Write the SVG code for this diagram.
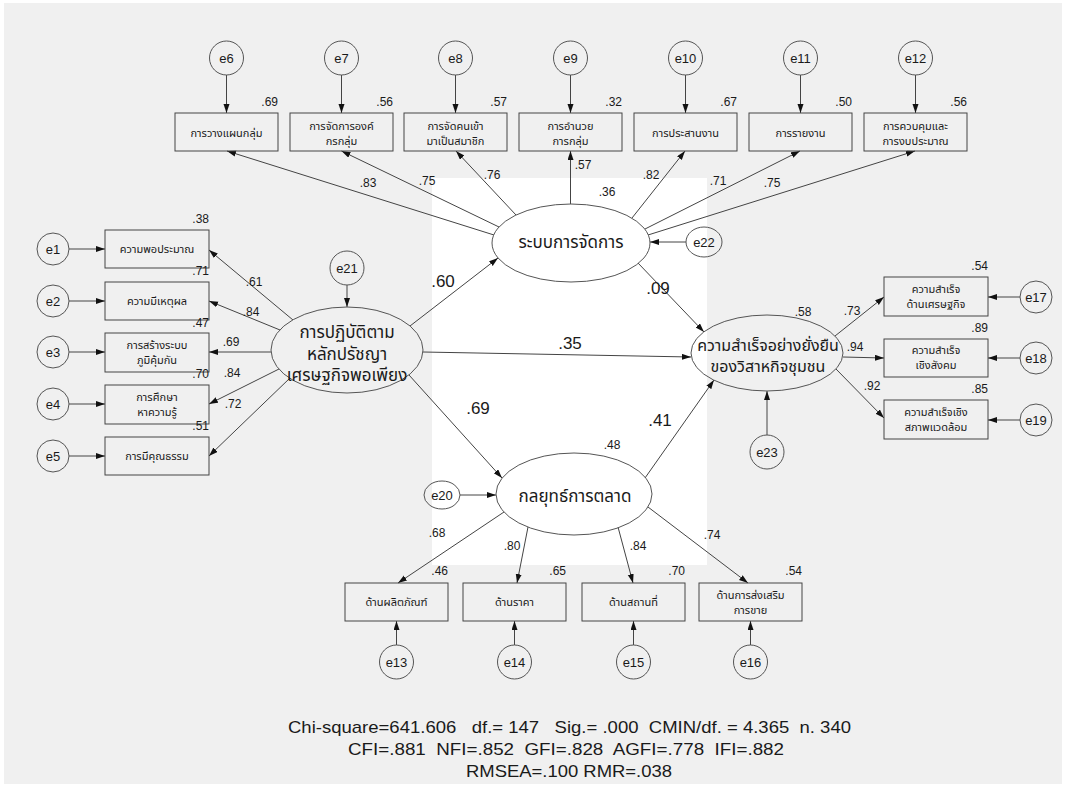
<svg xmlns="http://www.w3.org/2000/svg" width="1066" height="788" viewBox="0 0 1066 788">
<defs>
<marker id="ah" markerUnits="userSpaceOnUse" markerWidth="10" markerHeight="7" refX="9" refY="3" orient="auto">
<path d="M0,0 L9,3 L0,6 Z" fill="#111"/>
</marker>
<style>
.box{fill:none;stroke:#444;stroke-width:1}
.err{fill:none;stroke:#555;stroke-width:1}
.lat{fill:none;stroke:#555;stroke-width:1}
.ln{fill:none;stroke:#444;stroke-width:1;marker-end:url(#ah)}
text{font-family:"Liberation Sans","Noto Sans Thai","Noto Sans",sans-serif;fill:#1a1a1a}
.bt{font-size:11px;text-anchor:middle}
.et{font-size:13px;text-anchor:middle}
.sm{font-size:12px}
.r2{font-size:12px;text-anchor:end}
.lg{font-size:17px}
.lt{font-size:17px;text-anchor:middle}
.st{font-size:17px}
</style>
</defs>
<rect x="0" y="0" width="1066" height="788" fill="#ffffff"/>
<rect x="4" y="3" width="1058" height="781" fill="#f0f0f0"/>
<rect x="432" y="178" width="275" height="387" fill="#ffffff"/>

<g id="connectors">
<line class="ln" x1="226.5" y1="75" x2="226.5" y2="113"/>
<line class="ln" x1="341.5" y1="75" x2="341.5" y2="113"/>
<line class="ln" x1="455.5" y1="75" x2="455.5" y2="113"/>
<line class="ln" x1="570.5" y1="75" x2="570.5" y2="113"/>
<line class="ln" x1="685.5" y1="75" x2="685.5" y2="113"/>
<line class="ln" x1="800.5" y1="75" x2="800.5" y2="113"/>
<line class="ln" x1="915.5" y1="75" x2="915.5" y2="113"/>
<line class="ln" x1="494" y1="235" x2="227" y2="151"/>
<line class="ln" x1="499" y1="227" x2="341.5" y2="151"/>
<line class="ln" x1="516" y1="215" x2="456" y2="151"/>
<line class="ln" x1="570.5" y1="204" x2="570.5" y2="151"/>
<line class="ln" x1="632" y1="218" x2="685" y2="151"/>
<line class="ln" x1="645" y1="229" x2="800" y2="151"/>
<line class="ln" x1="648" y1="235" x2="915" y2="151"/>
<line class="ln" x1="69" y1="249" x2="105" y2="249"/>
<line class="ln" x1="69" y1="301" x2="105" y2="301"/>
<line class="ln" x1="69" y1="352" x2="105" y2="352"/>
<line class="ln" x1="69" y1="404" x2="105" y2="404"/>
<line class="ln" x1="69" y1="456" x2="105" y2="456"/>
<line class="ln" x1="293" y1="320" x2="209" y2="250"/>
<line class="ln" x1="280" y1="330" x2="209" y2="301"/>
<line class="ln" x1="271" y1="352" x2="209" y2="352"/>
<line class="ln" x1="279" y1="369" x2="209" y2="404"/>
<line class="ln" x1="290" y1="378" x2="209" y2="456"/>
<line class="ln" x1="347" y1="285" x2="347" y2="307"/>
<line class="ln" x1="686" y1="242" x2="650" y2="242"/>
<line class="ln" x1="460" y1="495" x2="496" y2="495"/>
<line class="ln" x1="767" y1="435" x2="767" y2="391"/>
<line class="ln" x1="410" y1="326" x2="498" y2="258"/>
<line class="ln" x1="423" y1="352" x2="691" y2="357"/>
<line class="ln" x1="409" y1="375" x2="502" y2="478"/>
<line class="ln" x1="638" y1="263" x2="704" y2="332"/>
<line class="ln" x1="645" y1="478" x2="714" y2="380"/>
<line class="ln" x1="835" y1="336" x2="884" y2="297"/>
<line class="ln" x1="843" y1="357" x2="884" y2="358"/>
<line class="ln" x1="836" y1="369" x2="884" y2="418"/>
<line class="ln" x1="1020" y1="297" x2="988" y2="297"/>
<line class="ln" x1="1020" y1="358" x2="988" y2="358"/>
<line class="ln" x1="1020" y1="420" x2="988" y2="420"/>
<line class="ln" x1="504" y1="512" x2="398" y2="583"/>
<line class="ln" x1="528" y1="527" x2="517" y2="583"/>
<line class="ln" x1="618" y1="527" x2="633" y2="583"/>
<line class="ln" x1="648" y1="507" x2="748" y2="583"/>
<line class="ln" x1="396.5" y1="645" x2="396.5" y2="621"/>
<line class="ln" x1="514.5" y1="645" x2="514.5" y2="621"/>
<line class="ln" x1="633.5" y1="645" x2="633.5" y2="621"/>
<line class="ln" x1="750.5" y1="645" x2="750.5" y2="621"/>
</g>

<g id="coefficients">
<text class="sm" x="368" y="187" text-anchor="middle">.83</text>
<text class="sm" x="427" y="185" text-anchor="middle">.75</text>
<text class="sm" x="492" y="179" text-anchor="middle">.76</text>
<text class="sm" x="583" y="169" text-anchor="middle">.57</text>
<text class="sm" x="651" y="179" text-anchor="middle">.82</text>
<text class="sm" x="718" y="185" text-anchor="middle">.71</text>
<text class="sm" x="772" y="187" text-anchor="middle">.75</text>
<text class="sm" x="607" y="196" text-anchor="middle">.36</text>
<text class="sm" x="254" y="286" text-anchor="middle">.61</text>
<text class="sm" x="251" y="316" text-anchor="middle">.84</text>
<text class="sm" x="231" y="346" text-anchor="middle">.69</text>
<text class="sm" x="232" y="377" text-anchor="middle">.84</text>
<text class="sm" x="233" y="408" text-anchor="middle">.72</text>
<text class="lg" x="443" y="287" text-anchor="middle">.60</text>
<text class="lg" x="570" y="349" text-anchor="middle">.35</text>
<text class="lg" x="478" y="414" text-anchor="middle">.69</text>
<text class="lg" x="658" y="294" text-anchor="middle">.09</text>
<text class="lg" x="660" y="426" text-anchor="middle">.41</text>
<text class="sm" x="612" y="449" text-anchor="middle">.48</text>
<text class="sm" x="803" y="316" text-anchor="middle">.58</text>
<text class="sm" x="852" y="315" text-anchor="middle">.73</text>
<text class="sm" x="855" y="351" text-anchor="middle">.94</text>
<text class="sm" x="872" y="390" text-anchor="middle">.92</text>
<text class="sm" x="437" y="537" text-anchor="middle">.68</text>
<text class="sm" x="512" y="550" text-anchor="middle">.80</text>
<text class="sm" x="638" y="550" text-anchor="middle">.84</text>
<text class="sm" x="712" y="539" text-anchor="middle">.74</text>
</g>

<g id="sep">
<ellipse class="lat" cx="347" cy="350" rx="76" ry="43"/>
<text class="lt" x="347" y="338">การปฏิบัติตาม</text>
<text class="lt" x="347" y="360">หลักปรัชญา</text>
<text class="lt" x="347" y="381">เศรษฐกิจพอเพียง</text>
</g>
<g id="mgt">
<ellipse class="lat" cx="571" cy="243" rx="79" ry="39"/>
<text class="lt" x="571" y="248">ระบบการจัดการ</text>
</g>
<g id="mkt">
<ellipse class="lat" cx="574" cy="494" rx="78" ry="41"/>
<text class="lt" x="575" y="502">กลยุทธ์การตลาด</text>
</g>
<g id="out">
<ellipse class="lat" cx="767" cy="353" rx="76" ry="38"/>
<text class="lt" x="768" y="351" style="font-size:16px">ความสำเร็จอย่างยั่งยืน</text>
<text class="lt" x="768" y="372" style="font-size:16px">ของวิสาหกิจชุมชน</text>
</g>

<g id="e21"><circle class="err" cx="347" cy="268" r="17"/><text class="et" x="347" y="273">e21</text></g>
<g id="e22"><ellipse class="err" cx="704" cy="242" rx="18" ry="15"/><text class="et" x="704" y="247">e22</text></g>
<g id="e20"><ellipse class="err" cx="442" cy="495" rx="18" ry="14"/><text class="et" x="442" y="500">e20</text></g>
<g id="e23"><circle class="err" cx="767" cy="452" r="17"/><text class="et" x="767" y="457">e23</text></g>

<g id="top1"><rect class="box" x="175" y="113" width="103" height="38"/><text class="bt" x="226.5" y="137">การวางแผนกลุ่ม</text><text class="r2" x="278" y="106">.69</text></g>
<g id="top2"><rect class="box" x="290" y="113" width="103" height="38"/><text class="bt" x="341.5" y="130">การจัดการองค์</text><text class="bt" x="341.5" y="145">กรกลุ่ม</text><text class="r2" x="393" y="106">.56</text></g>
<g id="top3"><rect class="box" x="404" y="113" width="103" height="38"/><text class="bt" x="455.5" y="130">การจัดคนเข้า</text><text class="bt" x="455.5" y="145">มาเป็นสมาชิก</text><text class="r2" x="507" y="106">.57</text></g>
<g id="top4"><rect class="box" x="519" y="113" width="103" height="38"/><text class="bt" x="570.5" y="130">การอำนวย</text><text class="bt" x="570.5" y="145">การกลุ่ม</text><text class="r2" x="622" y="106">.32</text></g>
<g id="top5"><rect class="box" x="634" y="113" width="103" height="38"/><text class="bt" x="685.5" y="137">การประสานงาน</text><text class="r2" x="737" y="106">.67</text></g>
<g id="top6"><rect class="box" x="749" y="113" width="103" height="38"/><text class="bt" x="800.5" y="137">การรายงาน</text><text class="r2" x="852" y="106">.50</text></g>
<g id="top7"><rect class="box" x="864" y="113" width="103" height="38"/><text class="bt" x="915.5" y="130">การควบคุมและ</text><text class="bt" x="915.5" y="145">การงบประมาณ</text><text class="r2" x="967" y="106">.56</text></g>

<g id="e6"><circle class="err" cx="226.5" cy="58" r="17"/><text class="et" x="226.5" y="63">e6</text></g>
<g id="e7"><circle class="err" cx="341.5" cy="58" r="17"/><text class="et" x="341.5" y="63">e7</text></g>
<g id="e8"><circle class="err" cx="455.5" cy="58" r="17"/><text class="et" x="455.5" y="63">e8</text></g>
<g id="e9"><circle class="err" cx="570.5" cy="58" r="17"/><text class="et" x="570.5" y="63">e9</text></g>
<g id="e10"><circle class="err" cx="685.5" cy="58" r="17"/><text class="et" x="685.5" y="63">e10</text></g>
<g id="e11"><circle class="err" cx="800.5" cy="58" r="17"/><text class="et" x="800.5" y="63">e11</text></g>
<g id="e12"><circle class="err" cx="915.5" cy="58" r="17"/><text class="et" x="915.5" y="63">e12</text></g>

<g id="left1"><rect class="box" x="105" y="230" width="104" height="38"/><text class="bt" x="157" y="253">ความพอประมาณ</text><text class="r2" x="209" y="223">.38</text></g>
<g id="left2"><rect class="box" x="105" y="282" width="104" height="38"/><text class="bt" x="157" y="305">ความมีเหตุผล</text><text class="r2" x="209" y="275">.71</text></g>
<g id="left3"><rect class="box" x="105" y="333" width="104" height="39"/><text class="bt" x="157" y="349">การสร้างระบบ</text><text class="bt" x="157" y="364">ภูมิคุ้มกัน</text><text class="r2" x="209" y="327">.47</text></g>
<g id="left4"><rect class="box" x="105" y="385" width="104" height="39"/><text class="bt" x="157" y="401">การศึกษา</text><text class="bt" x="157" y="416">หาความรู้</text><text class="r2" x="209" y="378">.70</text></g>
<g id="left5"><rect class="box" x="105" y="437" width="104" height="38"/><text class="bt" x="157" y="460">การมีคุณธรรม</text><text class="r2" x="209" y="430">.51</text></g>

<g id="e1"><circle class="err" cx="53" cy="249" r="16"/><text class="et" x="53" y="254">e1</text></g>
<g id="e2"><circle class="err" cx="53" cy="301" r="16"/><text class="et" x="53" y="306">e2</text></g>
<g id="e3"><circle class="err" cx="53" cy="352" r="16"/><text class="et" x="53" y="357">e3</text></g>
<g id="e4"><circle class="err" cx="53" cy="404" r="16"/><text class="et" x="53" y="409">e4</text></g>
<g id="e5"><circle class="err" cx="53" cy="456" r="16"/><text class="et" x="53" y="461">e5</text></g>

<g id="right1"><rect class="box" x="884" y="277" width="104" height="39"/><text class="bt" x="936" y="293">ความสำเร็จ</text><text class="bt" x="936" y="308">ด้านเศรษฐกิจ</text><text class="r2" x="988" y="270">.54</text></g>
<g id="right2"><rect class="box" x="884" y="339" width="104" height="38"/><text class="bt" x="936" y="354">ความสำเร็จ</text><text class="bt" x="936" y="369">เชิงสังคม</text><text class="r2" x="988" y="332">.89</text></g>
<g id="right3"><rect class="box" x="884" y="400" width="104" height="39"/><text class="bt" x="936" y="416">ความสำเร็จเชิง</text><text class="bt" x="936" y="431">สภาพแวดล้อม</text><text class="r2" x="988" y="393">.85</text></g>

<g id="e17"><circle class="err" cx="1036" cy="297" r="16"/><text class="et" x="1036" y="302">e17</text></g>
<g id="e18"><circle class="err" cx="1036" cy="358" r="16"/><text class="et" x="1036" y="363">e18</text></g>
<g id="e19"><circle class="err" cx="1036" cy="420" r="16"/><text class="et" x="1036" y="425">e19</text></g>

<g id="bot1"><rect class="box" x="345" y="583" width="103" height="38"/><text class="bt" x="396.5" y="606">ด้านผลิตภัณฑ์</text><text class="r2" x="448" y="575">.46</text></g>
<g id="bot2"><rect class="box" x="463" y="583" width="103" height="38"/><text class="bt" x="514.5" y="606">ด้านราคา</text><text class="r2" x="566" y="575">.65</text></g>
<g id="bot3"><rect class="box" x="582" y="583" width="103" height="38"/><text class="bt" x="633.5" y="606">ด้านสถานที่</text><text class="r2" x="685" y="575">.70</text></g>
<g id="bot4"><rect class="box" x="699" y="583" width="103" height="38"/><text class="bt" x="750.5" y="599">ด้านการส่งเสริม</text><text class="bt" x="750.5" y="614">การขาย</text><text class="r2" x="802" y="575">.54</text></g>

<g id="e13"><circle class="err" cx="396.5" cy="662" r="17"/><text class="et" x="396.5" y="667">e13</text></g>
<g id="e14"><circle class="err" cx="514.5" cy="662" r="17"/><text class="et" x="514.5" y="667">e14</text></g>
<g id="e15"><circle class="err" cx="633.5" cy="662" r="17"/><text class="et" x="633.5" y="667">e15</text></g>
<g id="e16"><circle class="err" cx="750.5" cy="662" r="17"/><text class="et" x="750.5" y="667">e16</text></g>

<g id="fit">
<text class="st" x="288" y="733" textLength="563" lengthAdjust="spacingAndGlyphs" xml:space="preserve">Chi-square=641.606   df.= 147   Sig.= .000  CMIN/df. = 4.365  n. 340</text>
<text class="st" x="348" y="755" textLength="436" lengthAdjust="spacingAndGlyphs" xml:space="preserve">CFI=.881  NFI=.852  GFI=.828  AGFI=.778  IFI=.882</text>
<text class="st" x="466" y="777" textLength="206" lengthAdjust="spacingAndGlyphs">RMSEA=.100 RMR=.038</text>
</g>
</svg>
